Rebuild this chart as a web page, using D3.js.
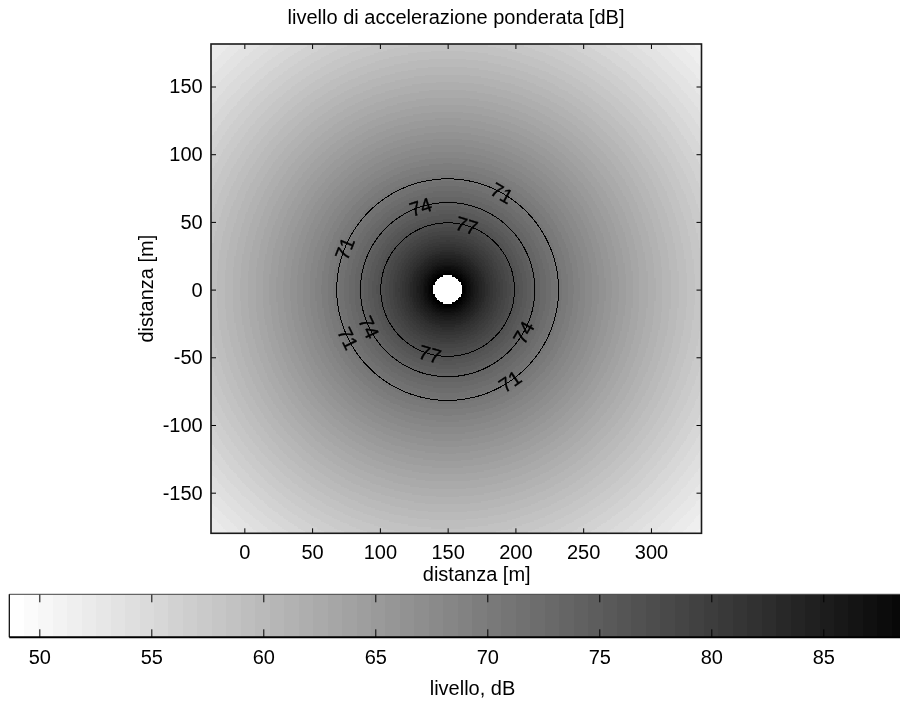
<!DOCTYPE html>
<html>
<head>
<meta charset="utf-8">
<script src="https://cdn.jsdelivr.net/npm/d3@7"></script>
<style>
  body { margin: 0; background: #fff; }
  #wrap { position: relative; width: 900px; height: 702px; overflow: hidden; }
  #wrap canvas, #wrap svg { position: absolute; left: 0; top: 0; }
  text { font-family: "Liberation Sans", Arial, Helvetica, sans-serif; fill: #000; }
</style>
</head>
<body>
<div id="wrap"></div>
<script>
// source position [m]
var sourceX = 150, sourceY = 0;

// radial profile of the level
var distances = [0, 10, 15, 20, 30, 40, 49.3, 64.3, 81.8, 100, 120, 140, 160, 180, 200, 230, 260, 300];
var levels    = [90.5, 90.5, 88.0, 85.6, 82.0, 79.2, 77, 74, 71, 68.3, 65.6, 63.1, 60.8, 58.6, 56.5, 53.6, 50.9, 47.5];
var holeRadius = 10.5;   // no data round the source

// contour levels and where their labels sit (angle round the source, degrees)
var contourLevels = [71, 74, 77];
var labelLevels = [71, 71, 71, 71, 74, 74, 74, 77, 77];
var labelAngles = [60.6, 158.3, 205.9, -56, 107.9, 205.3, -29.6, 73.3, -105.7];

// ticks
var xTicks = [0, 50, 100, 150, 200, 250, 300];
var yTicks = [-150, -100, -50, 0, 50, 100, 150];
var cbarTicks = [50, 55, 60, 65, 70, 75, 80, 85];
var cMin = 48.66, cMax = 90;

var W = 900, H = 702;
var pL = 211, pR = 701.5, pT = 44, pB = 533.3;

var x = d3.scaleLinear().domain([-24.6, 337.3]).range([pL, pR]);
var y = d3.scaleLinear().domain([-180, 181.4]).range([pB, pT]);

// inverted gray colormap, 64 steps
var grays = d3.range(64).map(function(i) {
  var v = Math.round(255 * (63 - i) / 63);
  return d3.rgb(v, v, v).toString();
});
var color = d3.scaleQuantize().domain([cMin, cMax]).range(grays);

var levelAt = d3.scaleLinear().domain(distances).range(levels).clamp(true);

// grid, 1 m
var step = 1;
var xs = d3.range(-25, 338, step);
var ys = d3.range(182, -182, -step);
var nx = xs.length, ny = ys.length;
var cvals = new Array(nx * ny);
for (var j = 0; j < ny; j++) {
  for (var i = 0; i < nx; i++) {
    var r = Math.hypot(xs[i] - sourceX, ys[j] - sourceY);
    cvals[j * nx + i] = levelAt(r);
  }
}

var wrap = d3.select('#wrap');
var canvas = wrap.append('canvas').attr('width', W).attr('height', H).node();
var ctx = canvas.getContext('2d');
ctx.fillStyle = '#fff';
ctx.fillRect(0, 0, W, H);

// image cells
ctx.save();
ctx.beginPath();
ctx.rect(pL, pT, pR - pL, pB - pT);
ctx.clip();
for (var j = 0; j < ny; j++) {
  var y0 = Math.round(y(ys[j] + step / 2)), y1 = Math.round(y(ys[j] - step / 2));
  for (var i = 0; i < nx; i++) {
    var r = Math.hypot(xs[i] - sourceX, ys[j] - sourceY);
    var x0 = Math.round(x(xs[i] - step / 2)), x1 = Math.round(x(xs[i] + step / 2));
    ctx.fillStyle = r < holeRadius ? '#fff' : color(cvals[j * nx + i]);
    ctx.fillRect(x0, y0, x1 - x0, y1 - y0);
  }
}
ctx.restore();

// colorbar
var cbLeft = 9.3, cbTop = 594.3, cbBottom = 637.3;
var cx = d3.scaleLinear().domain([cMin, cMax]).range([cbLeft, 935.3]);
var band = (cMax - cMin) / 64;
d3.range(64).forEach(function(k) {
  var a = cMin + k * band, b = a + band;
  var x0 = Math.round(cx(a)), x1 = Math.round(cx(b));
  ctx.fillStyle = color(a + band / 2);
  ctx.fillRect(x0, cbTop, x1 - x0, cbBottom - cbTop);
});

var svg = wrap.append('svg').attr('width', W).attr('height', H);

// contours
var contours = d3.contours().size([nx, ny]).thresholds(contourLevels).smooth(true)(cvals);
var gx = function(px) { return xs[0] + (px - 0.5) * step; };
var gy = function(py) { return ys[0] - (py - 0.5) * step; };
var proj = d3.geoTransform({
  point: function(px, py) { this.stream.point(x(gx(px)), y(gy(py))); }
});
var path = d3.geoPath(proj);

svg.append('defs').append('clipPath').attr('id', 'plotclip')
  .append('rect').attr('x', pL).attr('y', pT).attr('width', pR - pL).attr('height', pB - pT);

svg.append('g').attr('clip-path', 'url(#plotclip)')
  .selectAll('path').data(contours).enter().append('path')
  .attr('d', path)
  .attr('fill', 'none')
  .attr('stroke', '#000')
  .attr('stroke-width', 1)
  .attr('shape-rendering', 'crispEdges');

// contour labels
labelLevels.forEach(function(lv, k) {
  var c = contours.filter(function(d) { return d.value === lv; })[0];
  var th = labelAngles[k] * Math.PI / 180;
  var best = null, bestD = Infinity;
  c.coordinates.forEach(function(poly) {
    poly.forEach(function(ring) {
      ring.forEach(function(p) {
        var dx = gx(p[0]) - sourceX, dy = gy(p[1]) - sourceY;
        var a = Math.atan2(dy, dx);
        var d = Math.abs(Math.atan2(Math.sin(a - th), Math.cos(a - th)));
        if (d < bestD) { bestD = d; best = [gx(p[0]), gy(p[1])]; }
      });
    });
  });
  var rot = Math.atan2(Math.cos(th), Math.sin(th)) * 180 / Math.PI;
  if (rot > 90) rot -= 180;
  if (rot <= -90) rot += 180;
  svg.append('text')
    .attr('transform', 'translate(' + x(best[0]) + ',' + y(best[1]) + ') rotate(' + rot + ')')
    .attr('text-anchor', 'middle')
    .attr('dy', '0.36em')
    .style('font-size', '20px')
    .style('stroke', '#000').style('stroke-width', 0.3)
    .text(lv);
});

// axes
var plain = function(d) { return String(d); };
function styleAxis(g) {
  g.select('.domain').remove();
  g.selectAll('line').attr('stroke', '#000');
  g.selectAll('text').style('font-size', '20px');
  g.attr('font-family', null).attr('font-size', null);
}
svg.append('g').attr('transform', 'translate(0,' + pB + ')')
  .call(d3.axisBottom(x).tickValues(xTicks).tickSize(-5).tickPadding(11.5).tickFormat(plain)).call(styleAxis);
svg.append('g').attr('transform', 'translate(0,' + pT + ')')
  .call(d3.axisTop(x).tickValues(xTicks).tickSize(-5).tickFormat('')).call(styleAxis);
svg.append('g').attr('transform', 'translate(' + pL + ',0)')
  .call(d3.axisLeft(y).tickValues(yTicks).tickSize(-5).tickPadding(8.3).tickFormat(plain)).call(styleAxis);
svg.append('g').attr('transform', 'translate(' + pR + ',0)')
  .call(d3.axisRight(y).tickValues(yTicks).tickSize(-5).tickFormat('')).call(styleAxis);

svg.append('rect')
  .attr('x', pL).attr('y', pT).attr('width', pR - pL).attr('height', pB - pT)
  .attr('fill', 'none').attr('stroke', '#1a1a1a').attr('stroke-width', 1.6);

// colorbar frame and ticks
svg.append('g').attr('transform', 'translate(0,' + cbBottom + ')')
  .call(d3.axisBottom(cx).tickValues(cbarTicks).tickSize(-8).tickPadding(12.5).tickFormat(plain)).call(styleAxis);
svg.append('g').attr('transform', 'translate(0,' + cbTop + ')')
  .call(d3.axisTop(cx).tickValues(cbarTicks).tickSize(-8).tickFormat('')).call(styleAxis);
svg.append('line').attr('x1', cbLeft).attr('x2', W).attr('y1', cbTop).attr('y2', cbTop)
  .attr('stroke', '#444').attr('stroke-width', 1);
svg.append('line').attr('x1', cbLeft).attr('x2', W).attr('y1', cbBottom).attr('y2', cbBottom)
  .attr('stroke', '#000').attr('stroke-width', 2);
svg.append('line').attr('x1', cbLeft).attr('x2', cbLeft).attr('y1', cbTop).attr('y2', cbBottom)
  .attr('stroke', '#000').attr('stroke-width', 1.2);

// texts
svg.append('text').attr('x', 456).attr('y', 23.5).attr('text-anchor', 'middle')
  .style('font-size', '20px').text('livello di accelerazione ponderata [dB]');
svg.append('text').attr('x', 476.7).attr('y', 581).attr('text-anchor', 'middle')
  .style('font-size', '20px').text('distanza [m]');
svg.append('text').attr('transform', 'translate(153,288.7) rotate(-90)').attr('text-anchor', 'middle')
  .style('font-size', '20px').text('distanza [m]');
svg.append('text').attr('x', 472.5).attr('y', 695).attr('text-anchor', 'middle')
  .style('font-size', '20px').text('livello, dB');
</script>
</body>
</html>
